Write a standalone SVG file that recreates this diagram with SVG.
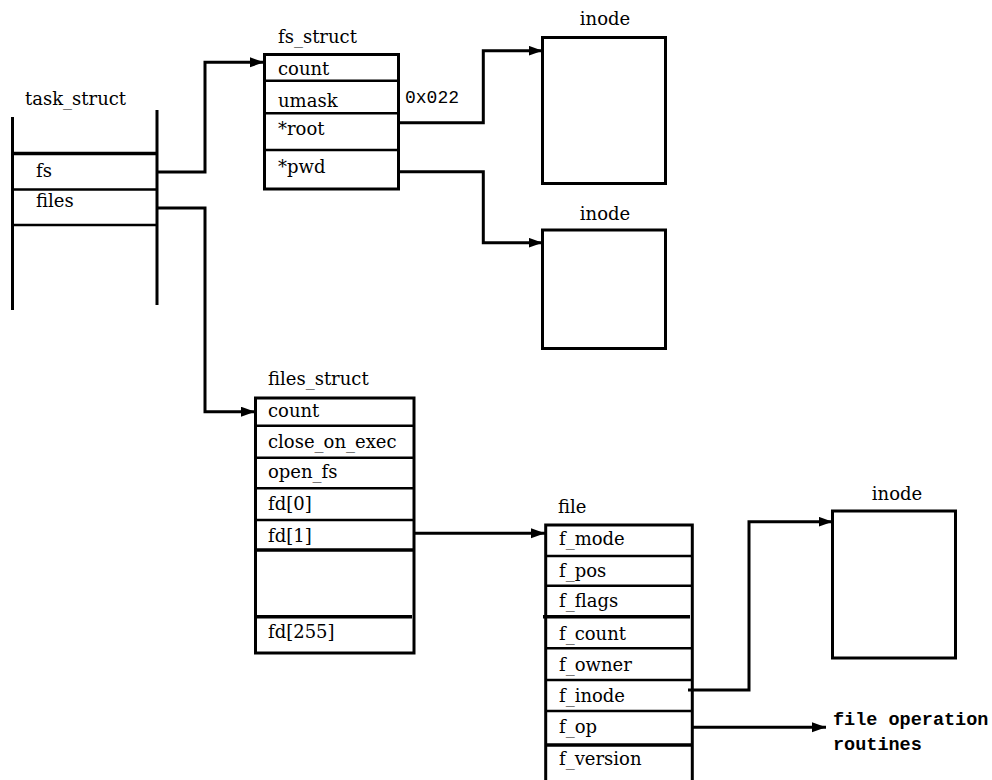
<svg xmlns="http://www.w3.org/2000/svg" width="992" height="780" viewBox="0 0 992 780">
<style>
.bx{fill:none;stroke:#000;stroke-width:3}
.ln{stroke:#000;stroke-width:2.6;fill:none}
.tk{stroke:#000;stroke-width:3.4;fill:none}
.t{font-family:"DejaVu Serif","Liberation Serif",serif;font-size:18px;fill:#000}
.c{text-anchor:middle}
.m{font-family:"Liberation Mono","DejaVu Sans Mono",monospace;font-size:18px;fill:#000}
.mb{font-family:"Liberation Mono","DejaVu Sans Mono",monospace;font-size:18.5px;font-weight:bold;fill:#000}
.cn{stroke:#000;stroke-width:3;fill:none;marker-end:url(#ah)}
</style>
<defs>
<marker id="ah" markerUnits="userSpaceOnUse" markerWidth="16" markerHeight="12" refX="14" refY="5" orient="auto">
<path d="M0,0 L14,5 L0,10 z" fill="#000"/>
</marker>
</defs>
<rect width="992" height="780" fill="#fff"/>

<g id="task_struct">
<text class="t" x="25" y="105">task_struct</text>
<path class="bx" d="M12.5,117 V310 M157,110 V305"/>
<path class="tk" d="M12,153.5 H157"/>
<path class="ln" d="M12,189.5 H157 M12,225 H157"/>
<text class="t" x="36" y="177">fs</text>
<text class="t" x="36" y="207">files</text>
</g>

<g id="fs_struct">
<text class="t" x="278" y="43">fs_struct</text>
<rect class="bx" x="264.5" y="54.5" width="134" height="134.5"/>
<path class="ln" d="M264,80.7 H397 M264,113.3 H399 M264,150 H399"/>
<text class="t" x="278" y="75">count</text>
<text class="t" x="278" y="107">umask</text>
<text class="t" x="278" y="135">*root</text>
<text class="t" x="278" y="173">*pwd</text>
<text class="m" x="405" y="103">0x022</text>
</g>

<g id="inode1">
<text class="t c" x="605" y="25">inode</text>
<rect class="bx" x="542.5" y="37.5" width="123" height="146"/>
</g>

<g id="inode2">
<text class="t c" x="605" y="220">inode</text>
<rect class="bx" x="542.5" y="230" width="123" height="118.5"/>
</g>

<g id="files_struct">
<text class="t" x="268" y="385">files_struct</text>
<rect class="bx" x="255.5" y="398" width="158.5" height="255"/>
<path class="ln" d="M255,425.7 H414 M255,457.7 H414 M255,488.3 H414 M255,520 H414"/>
<path class="tk" d="M255,550 H414 M255,616.7 H412"/>
<text class="t" x="268" y="417">count</text>
<text class="t" x="268" y="448">close_on_exec</text>
<text class="t" x="268" y="478">open_fs</text>
<text class="t" x="268" y="510">fd[0]</text>
<text class="t" x="268" y="541.5">fd[1]</text>
<text class="t" x="268" y="638">fd[255]</text>
</g>

<g id="file">
<text class="t" x="558" y="513">file</text>
<path class="bx" d="M545.7,782 V525 H692.3 V782"/>
<path class="ln" d="M545,556 H692 M545,585.7 H692 M545,648.3 H692 M545,680 H692 M545,711 H692"/>
<path class="tk" d="M543,616.7 H690 M545,745 H692"/>
<text class="t" x="559" y="545">f_mode</text>
<text class="t" x="559" y="576.5">f_pos</text>
<text class="t" x="559" y="606.5">f_flags</text>
<text class="t" x="559" y="640">f_count</text>
<text class="t" x="559" y="670.5">f_owner</text>
<text class="t" x="559" y="701.5">f_inode</text>
<text class="t" x="559" y="733">f_op</text>
<text class="t" x="559" y="765">f_version</text>
</g>

<g id="inode3">
<text class="t c" x="897" y="500">inode</text>
<rect class="bx" x="832.5" y="511" width="123" height="147"/>
</g>

<g id="routines">
<text class="mb" x="833" y="725">file operation</text>
<text class="mb" x="833" y="750">routines</text>
</g>

<g id="connectors">
<path class="cn" d="M157,172 H205 V62.3 H264"/>
<path class="cn" d="M157,208 H205 V411.7 H255"/>
<path class="cn" d="M400,122.7 H483.3 V50.7 H542.5"/>
<path class="cn" d="M400,171.7 H483.3 V242.7 H542.5"/>
<path class="cn" d="M414,533.3 H545"/>
<path class="cn" d="M688,690 H749 V521.7 H832.5"/>
<path class="cn" d="M692,727.3 H826"/>
</g>
</svg>
